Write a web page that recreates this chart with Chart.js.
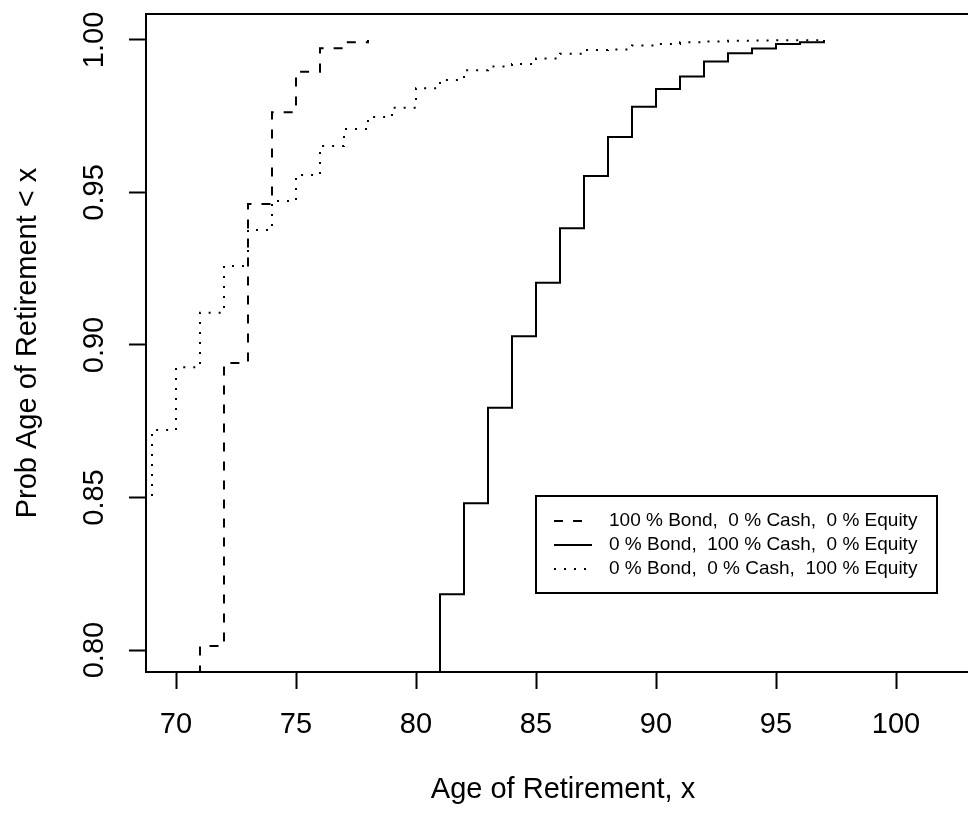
<!DOCTYPE html>
<html>
<head>
<meta charset="utf-8">
<script src="https://cdn.jsdelivr.net/npm/chart.js@4.4.1/dist/chart.umd.min.js"></script>
<style>
  html, body { margin: 0; padding: 0; background: #fff; overflow: hidden; }
  #wrap { position: absolute; left: 0; top: 0; width: 1000px; height: 813px; }
</style>
</head>
<body>
<div id="wrap"><canvas id="chart"></canvas></div>
<script>
// ages and P(age of retirement < x)
const bondAges = [70, 71, 72, 73, 74, 75, 76, 77, 78];
const bondProbs = [0.75, 0.8013, 0.8941, 0.9462, 0.9763, 0.9896, 0.9973, 0.9992, 1.0];

const cashAges = [80, 81, 82, 83, 84, 85, 86, 87, 88, 89, 90, 91, 92, 93, 94, 95, 96, 97];
const cashProbs = [0.75, 0.8183, 0.8481, 0.8794, 0.9029, 0.9204, 0.9383, 0.9554, 0.9682,
  0.9781, 0.9839, 0.9880, 0.9929, 0.9956, 0.9972, 0.9987, 0.9992, 1.0];

const equityAges = [69, 69, 70, 71, 72, 73, 74, 75, 76, 77, 78, 79, 80, 81, 82, 83, 84,
  85, 86, 87, 88, 89, 90, 91, 92, 93, 94, 95, 96, 97];
const equityProbs = [0.8505, 0.8721, 0.8927, 0.9106, 0.9259, 0.9377, 0.9472, 0.9557, 0.9652,
  0.9708, 0.9747, 0.9778, 0.9842, 0.9869, 0.9901, 0.9913, 0.9921, 0.9939, 0.9955, 0.9967,
  0.9969, 0.9982, 0.9987, 0.9992, 0.9995, 0.9997, 0.9998, 0.9999, 0.9999, 1.0];

const seriesLabels = [
  "100 % Bond,  0 % Cash,  0 % Equity",
  "0 % Bond,  100 % Cash,  0 % Equity",
  "0 % Bond,  0 % Cash,  100 % Equity"
];

const xTicks = [70, 75, 80, 85, 90, 95, 100];
const yTicks = [0.80, 0.85, 0.90, 0.95, 1.00];

const FONT = "'Liberation Sans', Arial, sans-serif";
const AXIS_SIZE = 29;

function pts(ages, probs) {
  return ages.map((a, i) => ({ x: a, y: probs[i] }));
}

// box round the plot region
const boxPlugin = {
  id: "box",
  afterDraw(chart) {
    const { ctx, chartArea: a } = chart;
    ctx.save();
    ctx.strokeStyle = "#000";
    ctx.lineWidth = 2;
    ctx.strokeRect(a.left, a.top, a.right - a.left, a.bottom - a.top);
    ctx.restore();
  }
};

// rotated y tick labels, like R's default
const yLabelPlugin = {
  id: "yLabels",
  afterDraw(chart) {
    const { ctx } = chart;
    const ys = chart.scales.y;
    ctx.save();
    ctx.fillStyle = "#000";
    ctx.font = AXIS_SIZE + "px " + FONT;
    ctx.textAlign = "center";
    ctx.textBaseline = "middle";
    ys.ticks.forEach(t => {
      ctx.save();
      ctx.translate(95, ys.getPixelForValue(t.value));
      ctx.rotate(-Math.PI / 2);
      ctx.fillText(t.value.toFixed(2), 0, 0);
      ctx.restore();
    });
    ctx.restore();
  }
};

// legend box inside the plot
const legendPlugin = {
  id: "boxLegend",
  afterDraw(chart) {
    const { ctx } = chart;
    const left = 536, top = 496, w = 401, h = 97;
    ctx.save();
    ctx.fillStyle = "#fff";
    ctx.fillRect(left, top, w, h);
    ctx.strokeStyle = "#000";
    ctx.lineWidth = 2;
    ctx.strokeRect(left, top, w, h);
    ctx.font = "19px " + FONT;
    ctx.textBaseline = "middle";
    ctx.fillStyle = "#000";
    chart.data.datasets.forEach((ds, i) => {
      const y = top + 25 + i * 24;
      ctx.beginPath();
      ctx.setLineDash(ds.borderDash || []);
      ctx.lineWidth = 2;
      ctx.lineCap = "butt";
      ctx.moveTo(554, y);
      ctx.lineTo(592, y);
      ctx.stroke();
      ctx.setLineDash([]);
      ctx.fillText(ds.label, 609, y);
    });
    ctx.restore();
  }
};

new Chart(document.getElementById("chart"), {
  type: "line",
  data: {
    datasets: [
      { label: seriesLabels[0], data: pts(bondAges, bondProbs), borderDash: [9, 10] },
      { label: seriesLabels[1], data: pts(cashAges, cashProbs), borderDash: [] },
      { label: seriesLabels[2], data: pts(equityAges, equityProbs), borderDash: [2, 8] }
    ].map(d => Object.assign(d, {
      borderColor: "#000",
      borderWidth: 2,
      borderCapStyle: "butt",
      stepped: "before",
      pointRadius: 0,
      fill: false
    }))
  },
  options: {
    responsive: true,
    maintainAspectRatio: false,
    animation: false,
    layout: { padding: { left: 0, top: 14, right: 20, bottom: 0 } },
    plugins: { legend: { display: false }, tooltip: { enabled: false } },
    scales: {
      x: {
        type: "linear",
        min: 68.75,
        max: 103.5,
        afterBuildTicks: s => { s.ticks = xTicks.map(v => ({ value: v })); },
        afterFit: s => { s.height = 141; },
        ticks: {
          color: "#000", font: { family: FONT, size: AXIS_SIZE },
          padding: 19, maxRotation: 0, autoSkip: false
        },
        grid: { drawOnChartArea: false, tickLength: 17, tickWidth: 2, tickColor: "#000" },
        border: { display: false },
        title: {
          display: true, text: "Age of Retirement, x", color: "#000",
          font: { family: FONT, size: AXIS_SIZE }, padding: { top: 0, bottom: 6 }
        }
      },
      y: {
        min: 0.7928,
        max: 1.0085,
        afterBuildTicks: s => { s.ticks = yTicks.map(v => ({ value: v })); },
        afterFit: s => { s.width = 146; },
        ticks: { display: false },
        grid: { drawOnChartArea: false, tickLength: 17, tickWidth: 2, tickColor: "#000" },
        border: { display: false },
        title: {
          display: true, text: "Prob Age of Retirement < x", color: "#000",
          font: { family: FONT, size: AXIS_SIZE }, padding: { top: 11, bottom: 0 }
        }
      }
    }
  },
  plugins: [boxPlugin, yLabelPlugin, legendPlugin]
});
</script>
</body>
</html>
